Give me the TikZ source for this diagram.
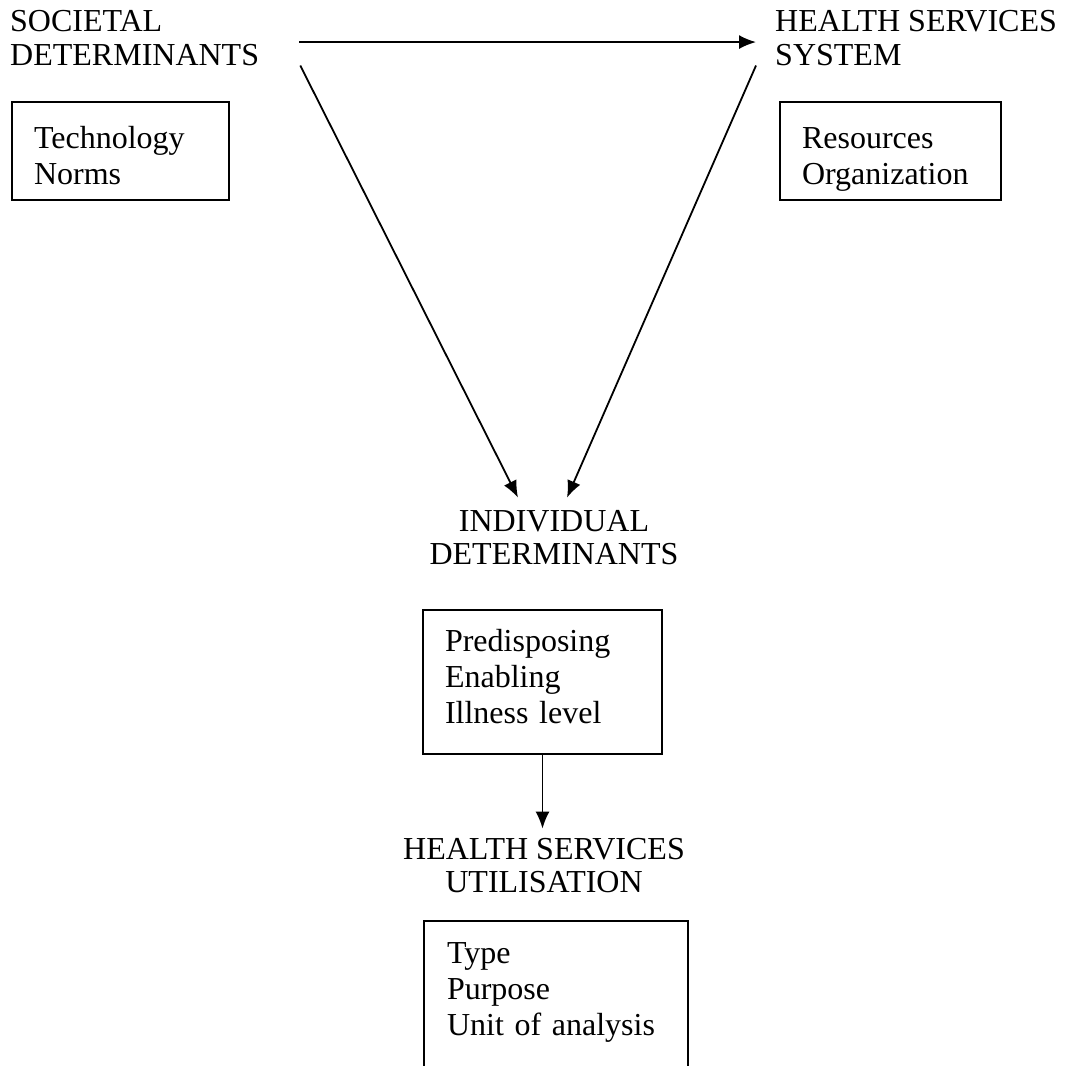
\documentclass[tikz,border=0pt]{standalone}
\usepackage{fontspec}
\setmainfont{Liberation Serif}
\usetikzlibrary{arrows.meta}
\begin{document}
\begin{tikzpicture}[
            x=1pt, y=-1pt,
            titulo/.style={inner sep=0pt, align=left, font=\fontsize{32}{33}\selectfont},
            caixa/.style={draw=black, line width=1.8pt, inner xsep=22pt, inner ysep=0pt,
                align=left, minimum height=98pt, text height=22pt, text depth=28pt,
                font=\fontsize{32}{36}\selectfont},
            seta/.style={line width=1.8pt, -{Latex[length=17pt,width=14pt]}},
        ]
        \useasboundingbox (0,0) rectangle (1067,1065);

        \node[titulo, anchor=base west] (soc) at (10, 65) {SOCIETAL\\DETERMINANTS};
        \node[titulo, anchor=base west] (hss) at (775, 65) {HEALTH SERVICES\\SYSTEM};
        \node[titulo, align=center, anchor=base] (ind) at (554, 564) {INDIVIDUAL\\DETERMINANTS};
        \node[titulo, align=center, anchor=base] (util) at (544, 892) {HEALTH SERVICES\\UTILISATION};

        \node[caixa, text width=173pt] (tec) at (120.5, 151) {Technology\\Norms};
        \node[caixa, text width=177pt] (rec) at (890.5, 151) {Resources\\Organization};
        \node[caixa, text width=195pt, minimum height=144pt, text depth=84pt] (pred) at (542.5, 682) {Predisposing\\Enabling\\Illness level};
        \node[caixa, draw=none, text width=218pt, minimum height=144pt, text depth=84pt] (tipo) at (556, 994) {Type\\Purpose\\Unit of analysis};
        \draw[line width=1.8pt] (tipo.south west) -- (tipo.north west) -- (tipo.north east) -- (tipo.south east);

        \draw[seta, shorten <=40pt, shorten >=19pt] ([yshift=-4pt]soc.east) -- ([yshift=-4pt]hss.west);
        \draw[seta] ([xshift=41pt]soc.south east) -- ([xshift=-36pt, yshift=12pt]ind.north);
        \draw[seta] ([xshift=-19pt]hss.south west) -- ([xshift=13pt, yshift=12pt]ind.north);
        \draw[seta, shorten >=9pt] (pred.south) -- (pred.south |- util.north);

    \end{tikzpicture}
\end{document}
